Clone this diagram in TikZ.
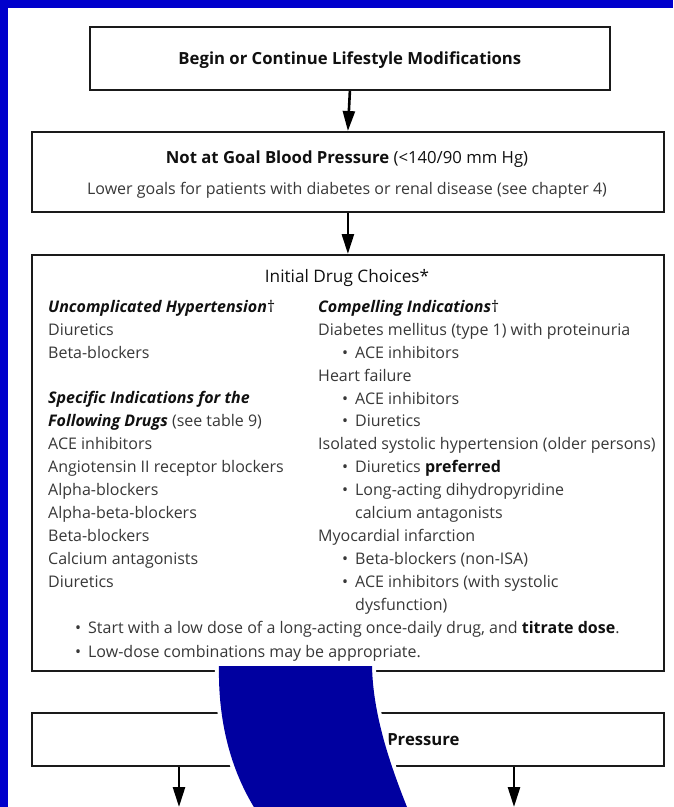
\documentclass[tikz,border=0pt]{standalone}
\usepackage{fontspec}
\setmainfont{Open Sans}
\usetikzlibrary{arrows.meta}

\definecolor{frameblue}{HTML}{0000CC}
\definecolor{bandblue}{HTML}{0000A0}
\definecolor{bodygray}{HTML}{383838}
\definecolor{inkblack}{HTML}{101010}
\definecolor{boxline}{HTML}{1A1A1A}

\tikzset{
  box/.style={draw=boxline, line width=1.8pt, fill=white, anchor=north west, inner sep=0pt},
  body/.style={font=\fontsize{16}{19}\selectfont, text=bodygray, inner sep=0pt,
               text height=11.5pt, text depth=0pt, anchor=west},
  head/.style={font=\fontsize{16.7}{20}\selectfont\bfseries, text=inkblack, inner sep=0pt,
               text height=12pt, text depth=0pt},
  plainhead/.style={font=\fontsize{17.2}{20}\selectfont, text=inkblack, inner sep=0pt,
               text height=12pt, text depth=0pt},
  flow/.style={line width=2.6pt, draw=black, -{Triangle[length=20pt,width=12pt]}},
}
\newcommand{\bul}[1]{\llap{\textbullet\hspace{7pt}}#1}
\newcommand{\bhead}[1]{\textbf{\textit{#1}}}

\begin{document}
\begin{tikzpicture}[x=1pt,y=-1pt]
\useasboundingbox (0,0) rectangle (673,807);
\fill[white] (0,0) rectangle (673,807);
% slide frame
\fill[frameblue] (0,0) rectangle (673,7.5);
\fill[frameblue] (0,0) rectangle (8,807);

% flow boxes
\node[box, minimum width=520pt, minimum height=63pt] (b1) at (89,26) {};
\node[box, minimum width=632pt, minimum height=80pt] (b2) at (31,131) {};
\node[box, minimum width=632pt, minimum height=416pt] (b3) at (31,254) {};
\node[box, minimum width=632pt, minimum height=53pt] (b4) at (31,712) {};

% box texts
\node[head] (t1) at (b1.center) {Begin or Continue Lifestyle Modifications};
\node[head] (t2) at (347,157) {Not at Goal Blood Pressure \mdseries(<140/90 mm Hg)};
\node[body, anchor=center] (t3) at (347,189) {Lower goals for patients with diabetes or renal disease (see chapter 4)};
\node[plainhead] (t4) at (347,276) {Initial Drug Choices*};
\node[head] (t5) at (b4.center) {Not at Goal Blood Pressure};

% left column
\node[body, text=inkblack] (l1) at (48,307) {\bhead{Uncomplicated Hypertension}†};
\node[body] (l2) at (48,330) {Diuretics};
\node[body] (l3) at (48,353) {Beta-blockers};
\node[body, text=inkblack] (l4) at (48,398) {\bhead{Specific Indications for the}};
\node[body] (l5) at (48,421) {\textcolor{inkblack}{\bhead{Following Drugs}} (see table 9)};
\node[body] (l6) at (48,444) {ACE inhibitors};
\node[body] (l7) at (48,467) {Angiotensin II receptor blockers};
\node[body] (l8) at (48,490) {Alpha-blockers};
\node[body] (l9) at (48,513) {Alpha-beta-blockers};
\node[body] (l10) at (48,536) {Beta-blockers};
\node[body] (l11) at (48,559) {Calcium antagonists};
\node[body] (l12) at (48,582) {Diuretics};

% right column
\node[body, text=inkblack] (r1) at (318,307) {\bhead{Compelling Indications}†};
\node[body] (r2) at (318,330) {Diabetes mellitus (type 1) with proteinuria};
\node[body] (r3) at (355,353) {\bul{ACE inhibitors}};
\node[body] (r4) at (318,376) {Heart failure};
\node[body] (r5) at (355,399) {\bul{ACE inhibitors}};
\node[body] (r6) at (355,421) {\bul{Diuretics}};
\node[body] (r7) at (318,444) {Isolated systolic hypertension (older persons)};
\node[body] (r8) at (355,467) {\bul{Diuretics \textcolor{inkblack}{\textbf{preferred}}}};
\node[body] (r9) at (355,490) {\bul{Long-acting dihydropyridine}};
\node[body] (r10) at (355,513) {calcium antagonists};
\node[body] (r11) at (318,536) {Myocardial infarction};
\node[body] (r12) at (355,559) {\bul{Beta-blockers (non-ISA)}};
\node[body] (r13) at (355,582) {\bul{ACE inhibitors (with systolic}};
\node[body] (r14) at (355,605) {dysfunction)};

% notes under both columns
\node[body] (n1) at (88,628) {\bul{Start with a low dose of a long-acting once-daily drug, and \textcolor{inkblack}{\textbf{titrate dose}}.}};
\node[body] (n2) at (88,652) {\bul{Low-dose combinations may be appropriate.}};

% connectors
\coordinate (e1) at (179,807);
\coordinate (e2) at (514,807);
\draw[flow] (b1.south) -- (b2.north);
\draw[flow] (b2.south) -- (b3.north);
\draw[flow] (b4.south -| e1) -- (e1);
\draw[flow] (b4.south -| e2) -- (e2);

% curved band laid over the lower part, with a thin white rim
\path[draw=white, line width=8pt]
  (219,666) .. controls (218,720) and (230,770) .. (257,812)
  -- (409,812) .. controls (390,765) and (373,715) .. (372,666) -- cycle;
\fill[bandblue]
  (219,666) .. controls (218,720) and (230,770) .. (257,812)
  -- (409,812) .. controls (390,765) and (373,715) .. (372,666) -- cycle;
\end{tikzpicture}
\end{document}
